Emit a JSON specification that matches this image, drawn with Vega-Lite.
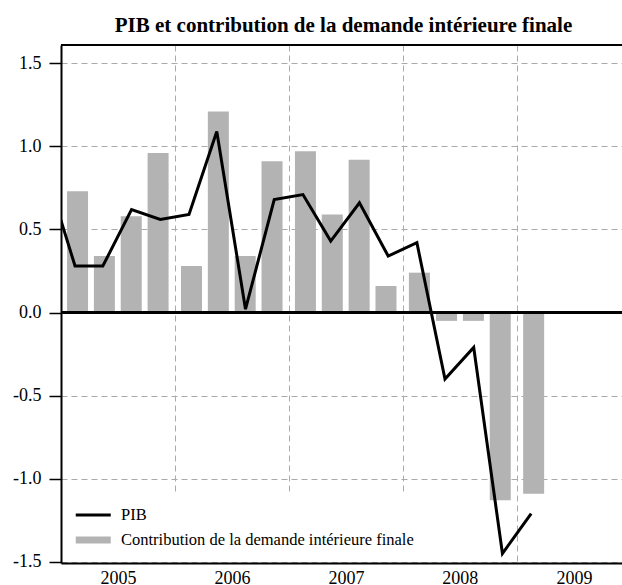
{
  "$schema": "https://vega.github.io/schema/vega-lite/v6.json",
  "autosize": "none",
  "width": 561,
  "height": 518,
  "padding": {"left": 61, "top": 45, "right": 0, "bottom": 22},
  "background": "white",
  "config": {
    "font": "Liberation Serif",
    "view": {"stroke": null},
    "axis": {"labelFont": "Liberation Serif", "labelColor": "black"},
    "legend": {"labelFont": "Liberation Serif"}
  },
  "title": {
    "text": "PIB et contribution de la demande intérieure finale",
    "font": "Liberation Serif",
    "fontSize": 21,
    "fontWeight": "bold",
    "color": "black",
    "anchor": "middle",
    "frame": "group",
    "offset": 8,
    "dx": 2
  },
  "datasets": {
    "quarters": [
      {"quarter": "2004-T4", "line_date": "2004-11-15", "bar_date": "2004-11-08", "pib": 0.84, "contrib": null},
      {"quarter": "2005-T1", "line_date": "2005-02-15", "bar_date": "2005-02-23", "pib": 0.28, "contrib": 0.73},
      {"quarter": "2005-T2", "line_date": "2005-05-15", "bar_date": "2005-05-20", "pib": 0.28, "contrib": 0.34},
      {"quarter": "2005-T3", "line_date": "2005-08-15", "bar_date": "2005-08-14", "pib": 0.62, "contrib": 0.58},
      {"quarter": "2005-T4", "line_date": "2005-11-15", "bar_date": "2005-11-08", "pib": 0.56, "contrib": 0.96},
      {"quarter": "2006-T1", "line_date": "2006-02-15", "bar_date": "2006-02-23", "pib": 0.59, "contrib": 0.28},
      {"quarter": "2006-T2", "line_date": "2006-05-15", "bar_date": "2006-05-20", "pib": 1.09, "contrib": 1.21},
      {"quarter": "2006-T3", "line_date": "2006-08-15", "bar_date": "2006-08-14", "pib": 0.02, "contrib": 0.34},
      {"quarter": "2006-T4", "line_date": "2006-11-15", "bar_date": "2006-11-08", "pib": 0.68, "contrib": 0.91},
      {"quarter": "2007-T1", "line_date": "2007-02-15", "bar_date": "2007-02-23", "pib": 0.71, "contrib": 0.97},
      {"quarter": "2007-T2", "line_date": "2007-05-15", "bar_date": "2007-05-20", "pib": 0.43, "contrib": 0.59},
      {"quarter": "2007-T3", "line_date": "2007-08-15", "bar_date": "2007-08-14", "pib": 0.66, "contrib": 0.92},
      {"quarter": "2007-T4", "line_date": "2007-11-15", "bar_date": "2007-11-08", "pib": 0.34, "contrib": 0.16},
      {"quarter": "2008-T1", "line_date": "2008-02-15", "bar_date": "2008-02-23", "pib": 0.42, "contrib": 0.24},
      {"quarter": "2008-T2", "line_date": "2008-05-15", "bar_date": "2008-05-20", "pib": -0.40, "contrib": -0.05},
      {"quarter": "2008-T3", "line_date": "2008-08-15", "bar_date": "2008-08-14", "pib": -0.21, "contrib": -0.05},
      {"quarter": "2008-T4", "line_date": "2008-11-15", "bar_date": "2008-11-08", "pib": -1.45, "contrib": -1.13},
      {"quarter": "2009-T1", "line_date": "2009-02-15", "bar_date": "2009-02-23", "pib": -1.21, "contrib": -1.09}
    ]
  },
  "data": {"name": "quarters"},
  "layer": [
    {
      "transform": [{"filter": "datum.contrib != null"}],
      "mark": {"type": "bar", "width": 21, "fill": "#b3b3b3"},
      "encoding": {
        "x": {
          "field": "bar_date",
          "type": "temporal",
          "scale": {
            "type": "utc",
            "nice": false,
            "padding": 0,
            "domain": [
              {"year": 2005, "month": 1, "date": 1, "utc": true},
              {"year": 2009, "month": 12, "date": 3, "utc": true}
            ]
          },
          "axis": {
            "title": null,
            "values": [
              {"year": 2005, "month": 1, "date": 1, "utc": true},
              {"year": 2006, "month": 1, "date": 1, "utc": true},
              {"year": 2007, "month": 1, "date": 1, "utc": true},
              {"year": 2008, "month": 1, "date": 1, "utc": true},
              {"year": 2009, "month": 1, "date": 1, "utc": true}
            ],
            "format": "%Y",
            "formatType": "utc",
            "labelOffset": 57,
            "labelFont": "Liberation Serif",
            "labelFontSize": 18,
            "labelPadding": 6,
            "labelBaseline": "top",
            "ticks": false,
            "domainColor": "black",
            "domainWidth": 2,
            "grid": true,
            "gridColor": "#aaaaaa",
            "gridDash": [6, 4],
            "gridWidth": 1,
            "labelFlush": false,
            "labelOverlap": false
          }
        },
        "y": {
          "field": "contrib",
          "type": "quantitative",
          "scale": {"domain": [-1.507, 1.61], "nice": false, "zero": false, "padding": 0},
          "axis": {
            "title": null,
            "values": [-1.5, -1, -0.5, 0, 0.5, 1, 1.5],
            "labelExpr": "replace(format(datum.value, '.1f'), '\u2212', '-')",
            "labelFont": "Liberation Serif",
            "labelFontSize": 18,
            "labelPadding": 8,
            "tickSize": 12,
            "tickColor": "black",
            "tickWidth": 1.5,
            "domainColor": "black",
            "domainWidth": 2,
            "grid": true,
            "gridColor": "#aaaaaa",
            "gridDash": [6, 4],
            "gridWidth": 1,
            "labelFlush": false
          }
        },
        "color": {
          "datum": "Contribution de la demande intérieure finale",
          "type": "nominal",
          "scale": {
            "domain": ["PIB", "Contribution de la demande intérieure finale"],
            "range": ["black", "#b3b3b3"]
          },
          "legend": {
            "title": null,
            "orient": "none",
            "legendX": 2,
            "legendY": 448,
            "padding": 8,
            "fillColor": "white",
            "symbolType": "M-0.9,0H1.9",
            "symbolSize": 625,
            "labelFont": "Liberation Serif",
            "labelFontSize": 16.5,
            "labelColor": "black",
            "labelOffset": 18,
            "labelLimit": 0,
            "rowPadding": 0
          }
        }
      }
    },
    {
      "mark": {"type": "rule", "color": "black", "strokeWidth": 2},
      "encoding": {"y": {"datum": 0}}
    },
    {
      "mark": {"type": "rule", "color": "black", "strokeWidth": 2},
      "encoding": {"y": {"datum": 1.61}}
    },
    {
      "mark": {"type": "line", "clip": true, "strokeJoin": "miter"},
      "encoding": {
        "x": {"field": "line_date", "type": "temporal"},
        "y": {"field": "pib", "type": "quantitative"},
        "color": {"datum": "PIB", "type": "nominal"},
        "strokeWidth": {
          "datum": "PIB",
          "type": "nominal",
          "scale": {
            "domain": ["PIB", "Contribution de la demande intérieure finale"],
            "range": [3, 7]
          },
          "legend": {
            "title": null,
            "orient": "none",
            "legendX": 2,
            "legendY": 448,
            "padding": 8,
            "fillColor": "white",
            "symbolType": "M-0.9,0H1.9",
            "symbolSize": 625,
            "labelFont": "Liberation Serif",
            "labelFontSize": 16.5,
            "labelColor": "black",
            "labelOffset": 18,
            "labelLimit": 0,
            "rowPadding": 0
          }
        }
      }
    }
  ]
}
